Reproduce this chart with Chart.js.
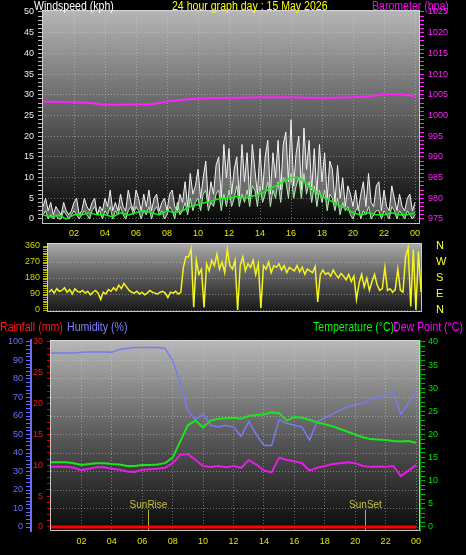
<!DOCTYPE html>
<html>
<head>
<meta charset="utf-8">
<script src="https://cdn.jsdelivr.net/npm/chart.js@4.4.0/dist/chart.umd.min.js"></script>
<style>
body { margin:0; background:#000; width:466px; height:555px; overflow:hidden; position:relative; font-family:"Liberation Sans", Arial, sans-serif; }
canvas { position:absolute; left:0; }
.t { position:absolute; font-size:12px; line-height:12px; white-space:nowrap; transform:scaleX(0.88); transform-origin:0 0; }
</style>
</head>
<body>
<canvas id="graficoVento" width="466" height="245" style="top:0"></canvas>
<canvas id="graficoDirecao" width="466" height="80" style="top:238px"></canvas>
<canvas id="graficoTemp" width="466" height="225" style="top:330px"></canvas>

<div class="t" style="left:34px;top:0;color:#fff">Windspeed (kph)</div>
<div class="t" style="left:172px;top:0;color:#ffff00">24 hour graph day : 15 May 2026</div>
<div class="t" style="left:372px;top:0;color:#ff00ff">Barometer (hpa)</div>
<div class="t" style="left:0;top:321px;color:#ff1a1a">Rainfall (mm)</div>
<div class="t" style="left:67px;top:321px;color:#8080ff">Humidity (%)</div>
<div class="t" style="left:313px;top:321px;color:#00ff00">Temperature (°C)</div>
<div class="t" style="left:393px;top:321px;color:#ff00ff">Dew Point (°C)</div>

<script>
const horasEixo = [2, 4, 6, 8, 10, 12, 14, 16, 18, 20, 22, 24];

// rajada e velocidade a cada 10 min (kph)
const rajada = [
    3,5,2,4,1,3, 2,1,4,2,1,2, 4,5,1,2,5,3, 2,4,5,1,3,2,
    5,3,7,2,4,2, 6,3,2,7,4,2, 7,5,2,6,3,7, 2,5,6,2,4,5,
    2,6,7,3,2,6, 4,9,3,11,6,8, 12,5,10,14,4,9, 6,13,15,5,18,10,
    17,6,12,15,5,18, 9,16,5,18,12,6, 17,7,15,19,6,16, 10,19,7,18,21,9,
    24,8,16,20,7,22, 12,19,7,17,6,18, 9,16,5,14,12,4, 13,5,10,3,8,6,
    3,7,2,6,9,3, 11,4,3,8,9,2, 7,3,2,8,5,2, 6,3,2,5,6,2,
    4
];
const velocidade = [
    1,2,0,1,0,1, 0,0,2,1,0,1, 2,1,0,1,2,1, 0,2,3,1,2,0,
    2,1,3,0,2,1, 3,1,0,2,3,1, 3,2,0,2,1,3, 0,2,3,1,2,0,
    1,3,2,0,4,1, 2,4,1,5,2,4, 5,2,6,7,2,4, 3,6,7,2,6,3,
    7,3,5,8,3,6, 4,7,3,8,7,3, 8,4,6,9,3,7, 5,9,4,10,9,5,
    11,5,8,10,5,11, 6,9,4,8,3,7, 4,7,2,6,5,2, 5,1,4,2,3,1,
    0,2,3,0,2,1, 3,0,1,2,2,0, 2,1,0,3,2,0, 2,1,0,2,1,0,
    1
];
// media a cada 30 min
const mediaVento = [
    1,0.5,1,0,1,1,1.5,1,1,0.5,1.5,1,1.5,2,1.5,1,2,1.5,2,3,3.5,4,4.5,5,
    5,5.5,5,5.5,6,7,8,9,10,10,8.5,7,5.5,4.5,3.5,2.5,1.5,1,1.5,1,1,1.5,1,1,1.5
];
// barometro a cada hora (hpa)
const barometro = [
    1003.3,1003.3,1003.2,1003.0,1002.6,1002.6,1002.7,1002.7,1003.4,1003.8,1004.1,1004.2,
    1004.3,1004.3,1004.4,1004.4,1004.4,1004.3,1004.3,1004.3,1004.4,1004.6,1005.1,1005.1,1004.7
];
// direcao a cada 10 min (graus)
const direcao = [
    100,115,95,120,105,110, 125,100,115,90,120,105, 100,110,95,105,85,100, 110,95,60,100,90,115,
    105,125,110,140,120,150, 130,110,100,95,105,90, 100,85,95,110,100,95, 90,100,105,95,70,100,
    95,105,90,100,240,300, 300,345,15,280,200,230, 15,260,220,280,250,315, 230,270,210,340,250,230,
    280,0,250,300,220,260, 240,280,200,260,10,250, 230,270,210,250,240,260, 225,250,210,240,230,220,
    250,215,240,200,230,220, 210,245,45,200,225,200, 210,190,225,200,180,205, 190,170,200,160,190,60,
    150,200,130,180,110,160, 200,140,110,120,240,110, 120,100,115,230,110,100, 300,350,20,340,0,330,
    100
];
// a cada 30 min
const temperatura = [
    14.0,14.0,14.0,13.8,13.4,13.6,13.8,13.8,13.6,13.5,13.2,13.2,13.4,13.4,13.5,13.8,
    15.0,18.5,22.0,23.0,21.5,23.0,23.4,23.5,23.6,23.4,24.0,24.2,24.4,24.8,24.6,23.0,
    23.8,23.6,23.2,22.6,22.2,21.8,21.2,20.6,20.0,19.4,19.0,18.9,18.8,18.6,18.5,18.6,18.2
];
const pontoOrvalho = [
    13.0,13.0,13.0,12.8,12.3,12.6,12.9,12.9,12.6,12.4,12.0,11.9,12.4,12.5,12.6,12.8,
    13.8,15.6,15.8,14.5,13.2,13.0,13.2,12.9,13.2,12.8,14.5,13.5,12.2,11.8,15.0,14.5,
    14.2,13.8,12.2,12.8,13.2,13.6,13.8,14.0,13.8,13.2,13.0,13.1,13.0,13.2,11.0,12.2,13.4
];
const umidade = [
    94,94,94,94,94.5,94.6,94.6,94.6,94.5,96,96.5,97,97,97,97,96.5,
    90,78,63,58,61,55,54,55,54,49,57,50,44,44,58,56,
    55,54,47,57,59,61,63,65,66,67,69,70,71,73,61,67,73
];
const chuva = [0, 0];
const eventosSol = [
    { nome: 'SunRise', hora: 6.4 },
    { nome: 'SunSet', hora: 20.65 }
];

Chart.defaults.font.family = '"Liberation Sans", Arial, sans-serif';
Chart.defaults.animation = false;

const fonteEixo = { size: 9 };
const corGrade = 'rgba(215,215,215,0.45)';

function serie(valores) {
    const passo = 24 / (valores.length - 1);
    return valores.map((v, i) => ({ x: i * passo, y: v }));
}

function passos(de, ate, p) {
    const r = [];
    for (let v = de; v <= ate + 1e-9; v += p) r.push(Math.round(v * 100) / 100);
    return r;
}

function fixar(tamanho) {
    return (s) => {
        if (s.isHorizontal()) s.height = tamanho; else s.width = tamanho;
        s.paddingTop = 0; s.paddingBottom = 0; s.paddingLeft = 0; s.paddingRight = 0;
    };
}

function ticksEm(lista) {
    return (s) => { s.ticks = lista.map(v => ({ value: v })); };
}

const rotuloHora = (v) => String(v % 24).padStart(2, '0');

const fundo = {
    id: 'fundo',
    beforeDraw(chart, args, opts) {
        const { ctx, chartArea: a } = chart;
        const g = ctx.createLinearGradient(0, a.top, 0, a.bottom);
        g.addColorStop(0, opts.topo);
        g.addColorStop(0.5, opts.meio);
        g.addColorStop(1, opts.base);
        ctx.save();
        ctx.fillStyle = g;
        ctx.fillRect(a.left, a.top, a.right - a.left, a.bottom - a.top);
        ctx.restore();
    },
    beforeDatasetsDraw(chart) {
        const { ctx, chartArea: a } = chart;
        ctx.save();
        ctx.strokeStyle = 'rgba(215,215,215,0.9)';
        ctx.lineWidth = 1;
        ctx.strokeRect(a.left + 0.5, a.top + 0.5, a.right - a.left - 1, a.bottom - a.top - 1);
        ctx.restore();
    }
};

const opcoesBase = {
    responsive: false,
    devicePixelRatio: 1,
    plugins: { legend: { display: false }, tooltip: { enabled: false } },
    elements: { point: { radius: 0 }, line: { tension: 0 } }
};

// vento e barometro
new Chart(document.getElementById('graficoVento'), {
    type: 'line',
    data: {
        datasets: [
            { data: serie(rajada), yAxisID: 'yVento', borderColor: '#f2f2f2', borderWidth: 1,
              fill: '+1', backgroundColor: 'rgba(200,200,200,0.45)', order: 4 },
            { data: serie(velocidade), yAxisID: 'yVento', borderColor: '#aef0ae', borderWidth: 1,
              fill: false, order: 3 },
            { data: serie(mediaVento), yAxisID: 'yVento', borderColor: '#18f018', borderWidth: 1.5,
              fill: false, order: 2 },
            { data: serie(barometro), yAxisID: 'yBaro', borderColor: '#ff22ff', borderWidth: 2,
              fill: false, order: 1 }
        ]
    },
    options: {
        ...opcoesBase,
        layout: { padding: { top: 10, left: 0, right: 0, bottom: 0 } },
        plugins: { ...opcoesBase.plugins, fundo: { topo: '#b6b6b6', meio: '#5c5c5c', base: '#060606' } },
        scales: {
            x: {
                type: 'linear', min: -0.065, max: 24.32,
                afterBuildTicks: ticksEm(horasEixo),
                afterFit: fixar(21),
                ticks: { color: '#e4e400', font: fonteEixo, padding: 4, autoSkip: false, maxRotation: 0, callback: rotuloHora },
                grid: { color: corGrade, drawTicks: false },
                border: { display: false, dash: [1, 2] }
            },
            yVento: {
                position: 'left', min: -1.21, max: 50.48,
                afterBuildTicks: ticksEm(passos(0, 50, 1)),
                afterFit: fixar(42),
                ticks: { color: '#ececf6', font: fonteEixo, padding: 4, autoSkip: false,
                         callback: v => v % 5 === 0 ? v : '' },
                grid: { color: c => c.tick && c.tick.value % 5 === 0 ? corGrade : 'transparent',
                        tickColor: '#bdbdbd', tickLength: 4 },
                border: { display: false, dash: [1, 2] }
            },
            yBaro: {
                position: 'right', min: 973.79, max: 1025.48,
                afterBuildTicks: ticksEm(passos(975, 1025, 1)),
                afterFit: fixar(46),
                ticks: { color: '#ff22ff', font: fonteEixo, padding: 4, autoSkip: false,
                         callback: v => v % 5 === 0 ? v : '' },
                grid: { drawOnChartArea: false, tickColor: '#ff22ff', tickLength: 4 },
                border: { display: false }
            }
        }
    },
    plugins: [fundo]
});

// direcao do vento
new Chart(document.getElementById('graficoDirecao'), {
    type: 'line',
    data: {
        datasets: [
            { data: serie(direcao), yAxisID: 'yDir', borderColor: '#f4f41e', borderWidth: 1.5, fill: false }
        ]
    },
    options: {
        ...opcoesBase,
        layout: { padding: { top: 5, left: 0, right: 0, bottom: 6 } },
        plugins: { ...opcoesBase.plugins, fundo: { topo: '#ababab', meio: '#5a5a5a', base: '#161616' } },
        scales: {
            x: { type: 'linear', min: -0.13, max: 24.06, display: false },
            yDir: {
                position: 'left', min: -11.25, max: 376.9,
                afterBuildTicks: ticksEm(passos(0, 360, 10)),
                afterFit: fixar(47),
                ticks: { color: '#d2d200', font: fonteEixo, padding: 3, autoSkip: false,
                         callback: v => v % 90 === 0 ? v : '' },
                grid: { color: c => c.tick && c.tick.value % 90 === 0 ? corGrade : 'transparent',
                        tickColor: '#b4b400', tickLength: 4 },
                border: { display: false, dash: [1, 2] }
            },
            yPontos: {
                position: 'right', min: -11.25, max: 376.9,
                afterBuildTicks: ticksEm([0, 90, 180, 270, 360]),
                afterFit: fixar(44),
                ticks: { color: '#ffff30', font: { size: 11 }, padding: 14, autoSkip: false,
                         callback: v => ({ 0: 'N', 90: 'E', 180: 'S', 270: 'W', 360: 'N' })[v] },
                grid: { drawOnChartArea: false, drawTicks: false },
                border: { display: false }
            }
        }
    },
    plugins: [fundo]
});

const linhasSol = {
    id: 'linhasSol',
    beforeDatasetsDraw(chart) {
        const { ctx, scales } = chart;
        ctx.save();
        ctx.strokeStyle = '#b8b030';
        ctx.fillStyle = '#c8c040';
        ctx.lineWidth = 1;
        ctx.font = '10px "Liberation Sans", Arial, sans-serif';
        ctx.textAlign = 'center';
        eventosSol.forEach(ev => {
            const px = Math.round(scales.x.getPixelForValue(ev.hora)) + 0.5;
            const topo = scales.yChuva.getPixelForValue(2.8);
            ctx.beginPath();
            ctx.moveTo(px, topo);
            ctx.lineTo(px, scales.yChuva.getPixelForValue(-0.5));
            ctx.stroke();
            ctx.fillText(ev.nome, px, topo - 2);
        });
        ctx.restore();
    }
};

// temperatura, umidade e chuva
new Chart(document.getElementById('graficoTemp'), {
    type: 'line',
    data: {
        datasets: [
            { data: serie(umidade), yAxisID: 'yUmid', borderColor: '#7a7af2', borderWidth: 1.5, fill: false, order: 4 },
            { data: serie(temperatura), yAxisID: 'yTemp', borderColor: '#1ee41e', borderWidth: 2, fill: false, order: 3 },
            { data: serie(pontoOrvalho), yAxisID: 'yTemp', borderColor: '#e41ee4', borderWidth: 2, fill: false, order: 2 },
            { data: serie(chuva), yAxisID: 'yChuva', borderColor: '#ff0000', borderWidth: 3, fill: false, order: 1 }
        ]
    },
    options: {
        ...opcoesBase,
        layout: { padding: { top: 10, left: 0, right: 0, bottom: 0 } },
        plugins: { ...opcoesBase.plugins, fundo: { topo: '#b8b8b8', meio: '#5a5a5a', base: '#0a0a0a' } },
        scales: {
            x: {
                type: 'linear', min: -0.066, max: 24.26,
                afterBuildTicks: ticksEm(horasEixo),
                afterFit: fixar(24),
                ticks: { color: '#e4e400', font: fonteEixo, padding: 5, autoSkip: false, maxRotation: 0, callback: rotuloHora },
                grid: { color: corGrade, drawTicks: false },
                border: { display: false, dash: [1, 2] }
            },
            yUmid: {
                position: 'left', weight: 1, min: -2.16, max: 101.08,
                afterBuildTicks: ticksEm(passos(0, 100, 2)),
                afterFit: fixar(31),
                ticks: { color: '#7070ff', font: fonteEixo, padding: 3, autoSkip: false,
                         callback: v => v % 10 === 0 ? v : '' },
                grid: { color: c => c.tick && c.tick.value % 10 === 0 ? corGrade : 'transparent',
                        tickColor: '#6a6aff', tickLength: 5 },
                border: { display: true, color: '#6a6aff', width: 2, dash: [1, 2] }
            },
            yChuva: {
                position: 'left', weight: 0, min: -0.65, max: 30.32,
                afterBuildTicks: ticksEm(passos(0, 30, 1)),
                afterFit: fixar(19),
                ticks: { color: '#ff1414', font: fonteEixo, padding: 4, autoSkip: false,
                         callback: v => v % 5 === 0 ? v : '' },
                grid: { drawOnChartArea: false, tickColor: '#e00000', tickLength: 3 },
                border: { display: false }
            },
            yTemp: {
                position: 'right', min: -0.865, max: 40.43,
                afterBuildTicks: ticksEm(passos(0, 40, 1)),
                afterFit: fixar(46),
                ticks: { color: '#00e000', font: fonteEixo, padding: 3, autoSkip: false,
                         callback: v => v % 5 === 0 ? v : '' },
                grid: { drawOnChartArea: false, tickColor: '#00b400', tickLength: 5 },
                border: { display: true, color: '#008a00', width: 1 }
            }
        }
    },
    plugins: [fundo, linhasSol]
});
</script>
</body>
</html>
